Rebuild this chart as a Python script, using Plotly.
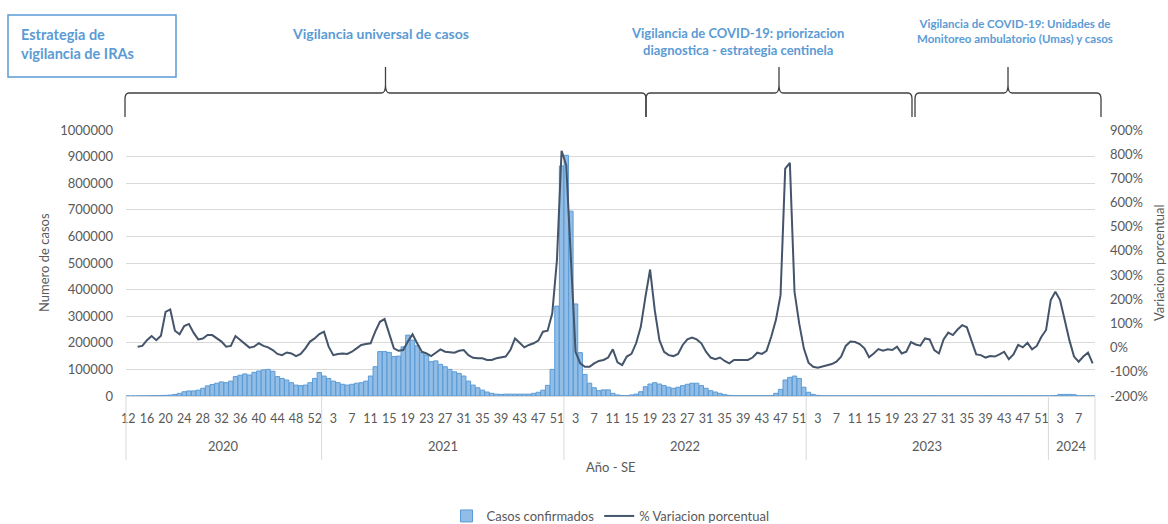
import plotly.graph_objects as go

# ---------------- data ----------------
YEARS = [2020, 2021, 2022, 2023, 2024]
FIRST_WEEK = [12, 1, 1, 1, 1]
LAST_WEEK = [53, 52, 52, 52, 10]

CASES_2020 = [200, 300, 500, 700, 900, 1200, 1500, 2000, 2500, 3500,
              6000, 10000, 16000, 19000, 19000, 22000, 29000, 38000, 43000, 48000,
              53000, 50000, 56000, 73000, 78000, 83000, 79000, 89000, 94000, 98000,
              100000, 93000, 73000, 66000, 60000, 50000, 41000, 39000, 41000, 50000,
              66000, 88000]
CASES_2021 = [75000, 66000, 56000, 50000, 44000, 41000, 44000, 48000, 50000, 56000,
              75000, 110000, 167000, 167000, 164000, 148000, 150000, 185000, 229000, 210000,
              189000, 163000, 154000, 129000, 132000, 119000, 110000, 100000, 91000, 85000,
              75000, 56000, 41000, 31000, 22000, 15000, 10000, 7000, 6000, 7000,
              7000, 7000, 7000, 7000, 7000, 10000, 14000, 22000, 40000, 100000,
              338000, 865000]
CASES_2022 = [905000, 695000, 346000, 163000, 81000, 48000, 31000, 20000, 23000, 23000,
              10000, 4000, 2000, 1500, 4000, 7000, 16000, 35000, 45000, 50000,
              45000, 39000, 33000, 29000, 33000, 39000, 44000, 48000, 48000, 39000,
              29000, 20000, 15000, 10000, 5000, 2500, 1500, 1500, 1500, 1500,
              1500, 1500, 1500, 1500, 1500, 10000, 25000, 60000, 70000, 75000,
              66000, 33000]
CASES_2023 = [14000, 6000, 2500] + [1000] * 49
CASES_2024 = [1000, 2000, 6000, 6000, 6000, 5000, 1000, 1000, 1000, 1000]

PCT_2020 = [None, None, 4, 7, 31, 48, 31, 49, 148, 158,
            70, 55, 89, 98, 62, 34, 38, 52, 52, 38,
            25, 4, 7, 48, 31, 15, 0, 4, 18, 7,
            1, -10, -26, -31, -20, -24, -35, -26, -3, 25,
            38, 56]
PCT_2021 = [66, 4, -31, -26, -24, -26, -17, -3, 11, 15,
            18, 66, 107, 118, 59, -3, -13, -10, 25, 55,
            18, -17, -24, -35, -21, -7, -17, -20, -21, -13,
            -10, -31, -42, -44, -44, -51, -51, -44, -40, -37,
            -10, 38, 20, 1, 11, 18, 29, 66, 70, 142,
            362, 814]
PCT_2022 = [754, 348, -17, -65, -79, -79, -65, -55, -51, -41,
            -7, -61, -72, -37, -26, 18, 86, 210, 323, 155,
            31, -17, -31, -35, -26, 11, 34, 42, 34, 18,
            -17, -41, -48, -41, -55, -65, -51, -51, -51, -51,
            -41, -21, -26, -13, 45, 114, 217, 740, 764, 231,
            100, -3]
PCT_2023 = [-62, -79, -83, -79, -72, -68, -58, -37, 7, 25,
            23, 15, -3, -40, -24, -6, -13, -7, -10, 4,
            -24, -17, 23, 13, 8, 38, 34, -10, -24, 34,
            62, 52, 75, 93, 84, 25, -28, -31, -41, -35,
            -37, -28, -17, -48, -28, 11, 1, 20, -7, 7,
            45, 73]
PCT_2024 = [197, 231, 197, 114, 31, -37, -58, -37, -21, -65]

PCT_TICKS = [-200, -100, 0, 100, 200, 300, 400, 500, 600, 700, 800, 900]

STRATEGIES = [
    "Vigilancia universal de casos",
    "Vigilancia de COVID-19: priorizacion<br>diagnostica - estrategia centinela",
    "Vigilancia de COVID-19: Unidades de<br>Monitoreo ambulatorio (Umas) y casos",
]
BOX_TEXT = "Estrategia de<br>vigilancia de IRAs"

# ---------------- build series ----------------
cases = CASES_2020 + CASES_2021 + CASES_2022 + CASES_2023 + CASES_2024
pct = PCT_2020 + PCT_2021 + PCT_2022 + PCT_2023 + PCT_2024
weeks, year_of = [], []
for y, f, l in zip(YEARS, FIRST_WEEK, LAST_WEEK):
    for w in range(f, l + 1):
        weeks.append(w)
        year_of.append(y)
n = len(weeks)
xs = list(range(n))

# ---------------- geometry helpers (layout only) ----------------
W, H = 1168, 524
L, R, T, B = 126, 73, 130, 128
PW, PH = W - L - R, H - T - B


def px(x):
    return (x - L) / PW


def py(y):
    return (H - B - y) / PH


BLUE_TXT = "#5B9BD5"
GRAY_TXT = "#595959"
FONT = "Lato, Carlito, Calibri, sans-serif"

fig = go.Figure()
fig.add_trace(go.Bar(
    x=xs, y=cases, name="Casos confirmados",
    marker=dict(color="#92BDE6", line=dict(color="#5B9BD5", width=1)),
    yaxis="y",
))
fig.add_trace(go.Scatter(
    x=xs, y=pct, name="% Variacion porcentual", mode="lines",
    line=dict(color="#44546A", width=2), yaxis="y2", connectgaps=False,
))

shapes = []
# year separators
bounds = [0]
for i in range(1, n):
    if year_of[i] != year_of[i - 1]:
        bounds.append(i)
bounds.append(n)
for k in bounds:
    shapes.append(dict(type="line", xref="paper", yref="paper",
                       x0=k / n, x1=k / n, y0=0, y1=py(460),
                       line=dict(color="#D9D9D9", width=1)))

annotations = []
for a, b in zip(bounds[:-1], bounds[1:]):
    annotations.append(dict(text=str(year_of[a]), xref="paper", yref="paper",
                            x=(a + b) / 2 / n, y=py(446), xanchor="center",
                            yanchor="middle", showarrow=False,
                            font=dict(size=13, color=GRAY_TXT, family=FONT)))


# braces
def brace(x0, x1, ye=117, yh=93, ys=67, r=4):
    xc = (x0 + x1) / 2
    pts = [
        ("M", [(x0, ye)]),
        ("L", [(x0, yh + r + 2)]),
        ("Q", [(x0, yh), (x0 + r, yh)]),
        ("L", [(xc - r, yh)]),
        ("Q", [(xc, yh), (xc, yh - 8)]),
        ("L", [(xc, ys)]),
        ("M", [(xc, yh - 8)]),
        ("Q", [(xc, yh), (xc + r, yh)]),
        ("L", [(x1 - r, yh)]),
        ("Q", [(x1, yh), (x1, yh + r + 2)]),
        ("L", [(x1, ye)]),
    ]
    s = ""
    for cmd, pp in pts:
        s += cmd + " ".join(f"{px(a):.5f},{py(b):.5f}" for a, b in pp) + " "
    return dict(type="path", xref="paper", yref="paper", path=s.strip(),
                line=dict(color="#404040", width=1.3))


for x0, x1 in [(125, 646), (646, 912), (915, 1101)]:
    shapes.append(brace(x0, x1))

# box
shapes.append(dict(type="rect", xref="paper", yref="paper",
                   x0=px(8), x1=px(176), y0=py(77), y1=py(15),
                   line=dict(color=BLUE_TXT, width=1.5)))
annotations.append(dict(text="<b>" + BOX_TEXT + "</b>", xref="paper", yref="paper",
                        x=px(19), y=py(44), xanchor="left", yanchor="middle",
                        align="left", showarrow=False,
                        font=dict(size=14.5, color=BLUE_TXT, family=FONT)))
# strategy labels
for txt, (cx, cy, fs) in zip(STRATEGIES, [(380, 33, 14), (737, 41, 13), (1015, 31, 11.5)]):
    annotations.append(dict(text="<b>" + txt + "</b>", xref="paper", yref="paper",
                            x=px(cx), y=py(cy), xanchor="center", yanchor="middle",
                            showarrow=False,
                            font=dict(size=fs, color=BLUE_TXT, family=FONT)))

# axis titles
annotations.append(dict(text="Numero de casos", xref="paper", yref="paper",
                        x=px(44), y=py(263), xanchor="center", yanchor="middle",
                        textangle=-90, showarrow=False,
                        font=dict(size=13, color=GRAY_TXT, family=FONT)))
annotations.append(dict(text="Variacion porcentual", xref="paper", yref="paper",
                        x=px(1159), y=py(263), xanchor="center", yanchor="middle",
                        textangle=-90, showarrow=False,
                        font=dict(size=13, color=GRAY_TXT, family=FONT)))
annotations.append(dict(text="Año - SE", xref="paper", yref="paper",
                        x=px(610), y=py(467), xanchor="center", yanchor="middle",
                        showarrow=False,
                        font=dict(size=13, color=GRAY_TXT, family=FONT)))

fig.update_layout(
    width=W, height=H,
    margin=dict(l=L, r=R, t=T, b=B, pad=0, autoexpand=False),
    paper_bgcolor="white", plot_bgcolor="white",
    font=dict(family=FONT, color=GRAY_TXT, size=13),
    bargap=0.06,
    showlegend=True,
    legend=dict(orientation="h", x=0.5, xanchor="center", y=py(516), yanchor="middle",
                font=dict(size=13, color=GRAY_TXT, family=FONT), bgcolor="rgba(0,0,0,0)"),
    xaxis=dict(range=[-0.5, n - 0.5], tickmode="array", tickvals=xs[::4],
               ticktext=[str(w) for w in weeks[::4]], tickangle=0,
               showgrid=False, zeroline=False, showline=True, linecolor="#D9D9D9",
               ticks="", ticklabelstandoff=11, automargin=False,
               tickfont=dict(size=12.5, color=GRAY_TXT, family=FONT)),
    yaxis=dict(range=[0, 1000000], dtick=100000, tickformat="d",
               showgrid=True, gridcolor="#D9D9D9", gridwidth=1, zeroline=False,
               showline=False, ticks="", ticklabelstandoff=12, automargin=False,
               tickfont=dict(size=13, color=GRAY_TXT, family=FONT)),
    yaxis2=dict(range=[-200, 900], tickmode="array", tickvals=PCT_TICKS,
                ticktext=[f"{v}%" for v in PCT_TICKS],
                overlaying="y", side="right", showgrid=False, automargin=False,
                zeroline=False, showline=False, ticks="", ticklabelstandoff=14,
                tickfont=dict(size=13, color=GRAY_TXT, family=FONT)),
    shapes=shapes, annotations=annotations,
)

fig.write_html("out.html",
               config={"displayModeBar": False},
               post_script="document.body.style.margin='0px';"
                           "document.body.style.overflow='hidden';")
